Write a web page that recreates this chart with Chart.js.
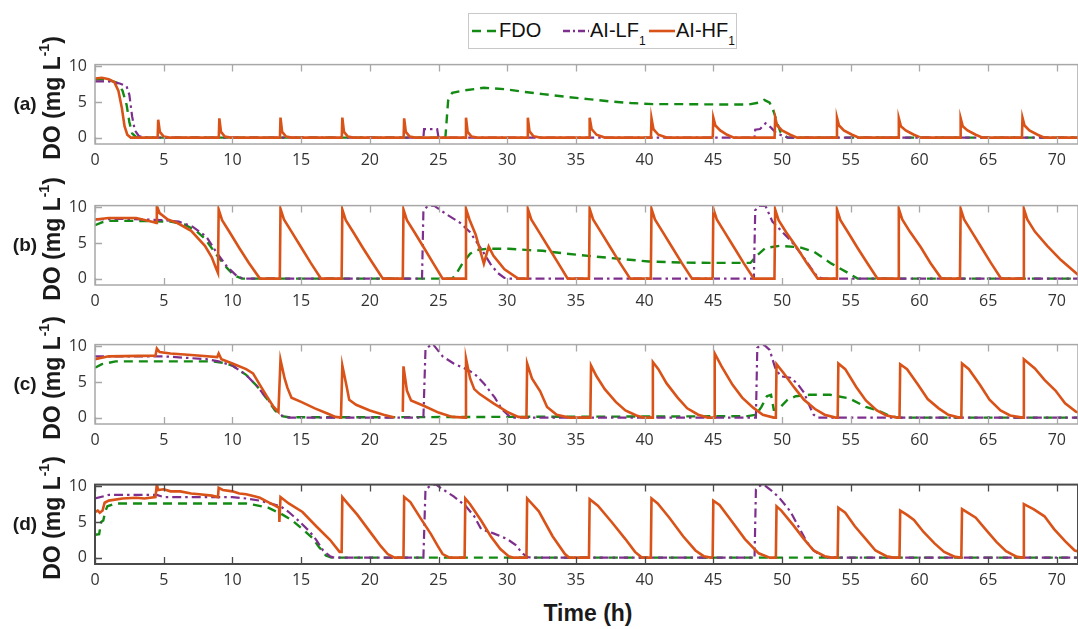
<!DOCTYPE html>
<html>
<head>
<meta charset="utf-8">
<script src="https://cdn.jsdelivr.net/npm/chart.js@4.4.7/dist/chart.umd.min.js"></script>
<style>
  body { margin:0; background:#fff; }
  #wrap { position:relative; width:1078px; height:629px; overflow:hidden; background:#fff; }
  canvas { position:absolute; left:0; }
  .ylab { position:absolute; left:52px; font:bold 23px "Liberation Sans", Arial, sans-serif; color:#1a1a1a;
          white-space:nowrap; transform:translate(-50%,-50%) rotate(-90deg); }
  .ylab sup { font-size:14px; position:relative; top:-2px; }
  .plab { position:absolute; left:25px; font:bold 19px "Liberation Sans", Arial, sans-serif; color:#1a1a1a;
          transform:translate(-50%,-50%); }
  #xlab { position:absolute; left:588px; top:613px; transform:translate(-50%,-50%);
          font:bold 23px "Liberation Sans", Arial, sans-serif; color:#1a1a1a; }
  #legend { position:absolute; left:468px; top:13px; width:269px; height:36px; border:1px solid #c8c8c8;
            background:#fff; box-sizing:border-box; font:20px "Liberation Sans", Arial, sans-serif; color:#111; }
  #legend svg, #legend span { position:absolute; }
  #legend span { top:5px; }
  #legend sub { font-size:12px; position:relative; top:3px; }
</style>
</head>
<body>
<div id="wrap">
  <div id="legend">
    <svg style="left:2px;top:10px" width="28" height="14"><line x1="1" y1="7" x2="27" y2="7" stroke="#138a13" stroke-width="2.6" stroke-dasharray="9,6"/></svg>
    <span style="left:30px">FDO</span>
    <svg style="left:93px;top:10px" width="28" height="14"><line x1="1" y1="7" x2="27" y2="7" stroke="#7E2F8E" stroke-width="2.4" stroke-dasharray="7,3,2,3"/></svg>
    <span style="left:121px">AI-LF<sub>1</sub></span>
    <svg style="left:179px;top:10px" width="28" height="14"><line x1="1" y1="7" x2="27" y2="7" stroke="#D95319" stroke-width="2.6"/></svg>
    <span style="left:207px">AI-HF<sub>1</sub></span>
  </div>
  <div id="xlab">Time (h)</div>
</div>
<script>
// axis ticks
const xTicks = [0, 5, 10, 15, 20, 25, 30, 35, 40, 45, 50, 55, 60, 65, 70];
const yTicks = [0, 5, 10];
const xMax = 71.54;

// ---- panel (a) ----
const a_FDO = [[0,8.2],[1.0,8.1],[1.6,7.7],[2.0,6.6],[2.3,4.6],[2.5,2.2],[2.7,0.6],[3.0,0.05],[3.5,0],[25.5,0],[25.7,5.2],[26.0,6.3],[26.8,6.6],[28.3,7.0],[29.8,6.8],[31.3,6.4],[32.6,6.1],[34.4,5.7],[35.9,5.4],[37.4,5.1],[39.0,4.85],[40.6,4.7],[42.4,4.7],[45.6,4.65],[47.6,4.65],[48.3,4.9],[48.7,5.3],[49.1,4.9],[49.4,3.6],[49.7,1.8],[49.9,0.7],[50.4,0],[72.7,0]];
const a_LF = [[0,7.9],[1.0,7.9],[1.8,7.6],[2.3,7.2],[2.5,6.0],[2.7,3.0],[2.9,1.0],[3.2,0.2],[3.6,0],[23.9,0],[23.95,1.2],[24.9,1.2],[25.0,0],[48.0,0],[48.05,1.1],[48.4,1.2],[48.8,2.0],[49.2,1.4],[49.6,0.6],[50.4,0],[72.7,0]];
const a_HF = [[0,8.3],[0.5,8.4],[1.0,8.2],[1.4,7.8],[1.7,6.6],[1.95,4.2],[2.15,1.6],[2.35,0.4],[2.6,0],
  [4.56,0],[4.6,2.5],[4.72,0.8],[5.0,0.15],[5.4,0],
  [9.01,0],[9.05,2.7],[9.17,0.8],[9.45,0.15],[9.85,0],
  [13.46,0],[13.5,2.8],[13.62,0.8],[13.9,0.15],[14.3,0],
  [17.96,0],[18.0,2.8],[18.12,0.8],[18.4,0.15],[18.8,0],
  [22.46,0],[22.5,2.7],[22.62,0.8],[22.9,0.15],[23.3,0],
  [26.96,0],[27.0,2.8],[27.12,0.8],[27.4,0.15],[27.8,0],
  [31.46,0],[31.5,2.8],[31.62,0.9],[31.9,0.2],[32.4,0],
  [35.96,0],[36.0,2.8],[36.14,1.2],[36.5,0.4],[37.1,0],
  [40.46,0],[40.5,2.7],[40.64,1.2],[41.0,0.4],[41.6,0],
  [44.96,0],[45.0,2.8],[45.15,1.7],[45.5,1.0],[46.0,0.4],[46.5,0],
  [49.46,0],[49.5,2.8],[49.65,1.7],[50.0,1.0],[50.6,0.4],[51.1,0],
  [53.96,0],[54.0,2.8],[54.15,1.7],[54.5,1.0],[55.1,0.4],[55.6,0],
  [58.46,0],[58.5,2.7],[58.65,1.6],[59.0,1.0],[59.6,0.4],[60.1,0],
  [62.96,0],[63.0,2.7],[63.15,1.6],[63.5,1.0],[64.1,0.4],[64.6,0],
  [67.46,0],[67.5,2.8],[67.65,1.7],[68.0,1.0],[68.6,0.4],[69.1,0],[72.7,0]];

// ---- panel (b) ----
const b_FDO = [[0,7.5],[0.5,7.9],[1.0,8.1],[3,8.1],[5.5,8.0],[6.5,7.6],[7.3,6.8],[8.0,5.6],[8.6,4.0],[9.1,2.7],[9.6,1.5],[10.0,0.7],[10.3,0.3],[10.7,0],[26.0,0],[26.3,0.7],[26.7,2.0],[27.3,3.5],[27.8,4.0],[28.6,4.2],[30.1,4.2],[31.6,4.0],[32.6,3.9],[34.3,3.5],[36.1,3.15],[38.3,2.75],[40.3,2.4],[42.8,2.25],[45.3,2.2],[47.7,2.2],[48.1,3.1],[48.8,4.3],[49.8,4.6],[51.3,4.4],[52.3,3.8],[53.6,2.1],[54.8,0.8],[55.5,0],[72.7,0]];
const b_LF = [[0,8.3],[2,8.4],[5,8.2],[6.1,8.0],[7.1,7.3],[8.1,5.9],[8.8,3.8],[9.6,1.7],[10.3,0.4],[10.8,0],[23.8,0],[23.9,9.5],[24.2,10.2],[24.7,10.2],[25.6,9.0],[26.6,7.8],[27.3,6.5],[28.1,4.2],[28.8,2.0],[29.3,0.8],[29.8,0.1],[30.2,0],[47.95,0],[48.05,9.6],[48.3,10.2],[48.8,10.2],[49.3,8.0],[49.8,7.0],[50.6,5.4],[51.3,3.7],[52.1,1.5],[52.6,0.2],[53.0,0],[72.7,0]];
const b_HF = [[0,8.3],[1,8.5],[3,8.5],[4.3,7.9],[4.45,7.8],[4.5,10.2],[4.7,9.2],[5.3,8.3],[6,7.8],[7,6.7],[8,4.6],[8.5,3.0],[8.8,1.5],[8.95,0.8],
  [9.0,9.7],[9.25,8.2],[9.8,6.5],[10.5,4.3],[11.2,2.2],[12.0,0],[13.45,0],
  [13.5,9.8],[13.75,8.3],[14.3,6.6],[15.0,4.4],[15.7,2.2],[16.45,0],[17.95,0],
  [18.0,9.7],[18.25,8.2],[18.8,6.5],[19.5,4.3],[20.2,2.2],[20.95,0],[22.4,0],
  [22.45,9.7],[22.7,8.2],[23.25,6.5],[23.95,4.3],[24.6,2.2],[25.3,0],[26.95,0],
  [27.0,9.8],[27.25,8.3],[27.7,6.2],[28.3,2.1],[28.65,4.5],[29.0,3.2],[29.8,1.3],[30.8,0],[31.45,0],
  [31.5,9.8],[31.75,8.3],[32.3,6.6],[33.0,4.4],[33.7,2.2],[34.4,0],[35.95,0],
  [36.0,9.8],[36.25,8.3],[36.8,6.6],[37.5,4.4],[38.2,2.2],[38.95,0],[40.45,0],
  [40.5,9.8],[40.75,8.3],[41.3,6.6],[42.0,4.4],[42.7,2.2],[43.45,0],[44.95,0],
  [45.0,9.8],[45.25,8.3],[45.8,6.6],[46.5,4.4],[47.2,2.2],[47.95,0],[49.45,0],
  [49.5,9.7],[49.75,8.2],[50.3,6.5],[51.1,4.3],[51.8,2.2],[52.6,0],[53.95,0],
  [54.0,9.7],[54.25,8.2],[54.8,6.5],[55.5,4.3],[56.2,2.2],[56.95,0],[58.45,0],
  [58.5,9.8],[58.75,8.3],[59.3,6.6],[60.1,4.4],[60.8,2.2],[61.6,0],[62.95,0],
  [63.0,9.8],[63.25,8.3],[63.8,6.6],[64.5,4.4],[65.2,2.2],[65.95,0],[67.55,0],
  [67.6,9.8],[67.85,8.3],[68.4,6.6],[69.3,4.6],[70.3,2.6],[71.5,0.6],[72.7,0.1]];

// ---- panel (c) ----
const c_FDO = [[0,7.0],[0.5,7.5],[1.5,7.9],[8.5,7.9],[9.3,7.7],[10,7.3],[11,6.0],[11.8,4.4],[12.6,2.4],[13.1,1.0],[13.6,0.2],[14.1,0.05],[20,0.05],[30,0.1],[40,0.15],[47.5,0.2],[48.1,0.4],[48.5,1.5],[48.9,3.0],[49.2,3.2],[49.4,1.1],[49.7,1.1],[50.4,2.5],[51.0,3.0],[52.0,3.2],[53.5,3.2],[54.9,2.7],[56.1,1.5],[57.1,0.9],[57.9,0.2],[58.5,0],[72.7,0]];
const c_LF = [[0,8.6],[5,8.6],[6.6,8.4],[8.1,8.2],[9.0,7.9],[10,7.3],[11,6.0],[11.8,4.4],[12.6,2.5],[13.1,1.2],[13.6,0.3],[14.1,0],[23.9,0],[24.05,9.5],[24.3,10.0],[24.6,10.3],[25.3,8.6],[26.1,7.6],[26.8,7.0],[27.6,6.2],[28.3,4.8],[29.1,2.8],[29.6,1.2],[30.1,0.3],[30.5,0],[48.1,0],[48.2,9.8],[48.4,10.1],[48.7,10.2],[49.1,9.5],[49.5,7.0],[49.9,5.8],[50.6,5.6],[51.1,4.8],[51.6,3.5],[52.1,1.2],[52.3,0.4],[52.6,0],[72.7,0]];
const c_HF = [[0,8.2],[1,8.6],[4.4,8.7],[4.5,9.7],[4.7,9.2],[5.5,9.0],[7,8.8],[8.9,8.5],[9.0,9.0],[9.2,8.2],[10,7.6],[11,6.8],[11.5,6.2],[12,4.6],[12.5,3.0],[13.0,1.5],[13.35,0.8],
  [13.5,8.1],[13.8,5.5],[14.0,4.2],[14.3,2.8],[15,2.2],[16,1.3],[17,0.5],[17.5,0.1],[17.9,0],
  [18.0,7.3],[18.3,4.5],[18.5,2.5],[19,1.8],[20,1.0],[21,0.4],[21.8,0],[22.0,null],
  [22.4,0.8],[22.45,7.2],[22.7,3.8],[23.0,2.4],[24,1.6],[25,0.7],[26,0.1],[26.95,0],
  [27.0,8.3],[27.3,5.5],[27.6,4.0],[28,3.3],[29,2.0],[30,0.8],[30.8,0.1],[31.4,0],
  [31.45,7.6],[31.8,5.5],[32.4,3.7],[32.9,1.5],[33.6,0.4],[34.5,0],[36.05,0],
  [36.1,7.3],[36.5,5.8],[37.1,4.0],[37.9,2.2],[38.6,1.0],[39.4,0.3],[39.9,0],[40.55,0],
  [40.6,7.8],[41.0,6.8],[41.6,4.8],[42.4,2.8],[43.1,1.3],[43.9,0.4],[44.6,0],[45.05,0],
  [45.1,9.0],[45.6,7.2],[46.4,4.6],[47.1,2.8],[47.9,1.4],[48.6,0.4],[49.4,0],[49.55,0],
  [49.6,7.5],[50.1,6.3],[50.9,4.2],[51.6,2.5],[52.4,1.2],[53.1,0.4],[53.9,0],[54.05,0],
  [54.1,7.6],[54.6,6.8],[55.4,4.3],[56.1,2.4],[56.9,1.0],[57.6,0.3],[58.4,0],[58.55,0],
  [58.6,7.5],[59.1,6.8],[59.9,4.6],[60.6,2.6],[61.4,1.3],[62.1,0.4],[62.9,0],[63.05,0],
  [63.1,7.6],[63.6,6.8],[64.4,4.6],[65.1,2.5],[65.9,1.0],[66.6,0.3],[67.5,0],[67.55,0],
  [67.6,8.2],[68.4,6.9],[69.1,5.3],[69.9,3.8],[70.6,2.0],[71.4,0.8],[72.7,0.3]];

// ---- panel (d) ----
const d_FDO = [[0,3.2],[0.3,3.3],[0.45,5.0],[0.6,5.2],[0.75,6.5],[0.9,7.2],[1.5,7.6],[11,7.6],[11.6,7.4],[12.6,7.0],[13.5,6.2],[14.3,5.3],[15.1,4.0],[15.8,2.8],[16.3,1.5],[16.8,0.3],[17.2,0],[72.7,0]];
const d_LF = [[0,8.3],[1,8.8],[4.5,8.8],[5,8.5],[10,8.5],[11,8.3],[12,8.0],[13.5,7.2],[14.1,6.4],[14.8,5.2],[15.6,3.7],[16.1,2.5],[16.6,1.0],[17.1,0.2],[17.4,0],[23.9,0],[24.05,9.5],[24.4,10.1],[24.8,10.3],[25.3,9.6],[26.1,8.6],[26.95,7.3],[27.6,5.8],[28.1,4.0],[29,3.4],[30,2.6],[30.6,1.8],[31.1,0.6],[31.5,0.05],[32,0],[48.0,0],[48.1,9.6],[48.4,10.1],[48.7,10.2],[49.3,9.3],[49.8,8.4],[50.6,6.5],[51.3,4.0],[51.8,2.2],[52.3,1.0],[52.8,0.3],[53.3,0],[72.7,0]];
const d_HF = [[0,6.4],[0.2,6.6],[0.35,6.3],[0.55,6.6],[0.7,7.7],[1,8.0],[2,8.3],[3,8.4],[3.6,8.3],[4.4,8.5],[4.5,10.3],[4.6,9.5],[5.0,9.6],[5.5,9.3],[6.2,9.3],[7,9.0],[7.6,8.9],[8.5,8.7],[8.95,8.5],[9.0,9.8],[9.3,9.5],[10,9.3],[10.5,9.0],[11,8.9],[11.6,8.6],[12,8.4],[12.6,7.8],[13,7.4],[13.4,7.0],[13.42,5.0],
  [13.5,8.5],[14.1,7.6],[15.1,6.4],[16.1,4.4],[17.1,2.5],[17.8,0.8],[17.95,0.8],
  [18.0,8.5],[18.3,7.8],[19.1,6.0],[20.1,3.4],[20.8,1.6],[21.3,0.5],[21.8,0],[22.45,0],
  [22.5,8.5],[22.95,7.8],[23.7,5.5],[24.45,3.3],[24.95,1.6],[25.3,0.5],[25.8,0],[26.9,0],
  [26.95,8.3],[27.3,7.5],[28.1,5.2],[28.8,3.0],[29.5,1.2],[30.1,0.2],[30.4,0],[31.4,0],
  [31.45,8.3],[32.3,6.5],[33.3,3.0],[34.2,0.5],[34.5,0],[35.95,0],
  [36.0,8.2],[36.6,7.3],[37.6,5.0],[38.6,2.6],[39.3,0.8],[39.8,0],[40.45,0],
  [40.5,8.3],[40.95,7.6],[41.8,5.6],[42.8,3.0],[43.7,1.0],[44.3,0.2],[44.8,0],[44.95,0],
  [45.0,8.0],[45.45,7.4],[46.3,5.2],[47.3,2.6],[48.3,0.6],[49.1,0],[49.55,0],
  [49.6,7.2],[49.95,6.6],[50.8,4.6],[51.6,2.6],[52.3,1.0],[53.1,0.2],[53.6,0],[54.05,0],
  [54.1,7.0],[54.6,6.3],[55.3,4.4],[56.1,2.6],[56.8,1.0],[57.6,0.2],[58.1,0],[58.55,0],
  [58.6,6.6],[59.1,6.0],[59.6,5.3],[60.3,3.6],[61.1,2.0],[61.8,0.8],[62.6,0.1],[63.05,0],
  [63.1,6.8],[63.6,6.2],[64.1,5.6],[64.8,4.0],[65.6,2.2],[66.3,0.9],[67.1,0.1],[67.55,0],
  [67.6,7.5],[68.3,6.8],[69.1,5.8],[69.8,4.0],[70.6,2.3],[71.3,1.0],[72.7,0.3]];

const seriesNames = ['AI-HF\u2081', 'AI-LF\u2081', 'FDO'];

// panel layout (pixel positions of each plot box)
const panels = [
    { tag:'(a)', hf:a_HF, lf:a_LF, fdo:a_FDO, top:53,  bottom:144, frame:'#a8a8a8', frameW:1.5 },
    { tag:'(b)', hf:b_HF, lf:b_LF, fdo:b_FDO, top:194, bottom:285, frame:'#a8a8a8', frameW:1.5 },
    { tag:'(c)', hf:c_HF, lf:c_LF, fdo:c_FDO, top:333, bottom:424, frame:'#a8a8a8', frameW:1.5 },
    { tag:'(d)', hf:d_HF, lf:d_LF, fdo:d_FDO, top:473, bottom:564, frame:'#4a4a4a', frameW:2 }
];

const PAD_TOP = 6, XAXIS_H = 32, YAXIS_W = 95, TICK_LEN = 7;
const toXY = arr => arr.map(p => ({ x: p[0], y: p[1] }));

// frame box + inward tick marks, MATLAB-style
const framePlugin = {
    id: 'frame',
    afterDraw(chart, args, opts) {
        const { ctx, chartArea: a, scales } = chart;
        ctx.save();
        ctx.strokeStyle = opts.color;
        ctx.lineWidth = opts.width;
        ctx.strokeRect(a.left, a.top, a.right - a.left, a.bottom - a.top);
        ctx.lineWidth = 1.3;
        ctx.beginPath();
        xTicks.forEach(v => {
            const x = Math.round(scales.x.getPixelForValue(v)) + 0.5;
            ctx.moveTo(x, a.bottom); ctx.lineTo(x, a.bottom - TICK_LEN);
            ctx.moveTo(x, a.top); ctx.lineTo(x, a.top + TICK_LEN);
        });
        yTicks.forEach(v => {
            const y = Math.round(scales.y.getPixelForValue(v)) + 0.5;
            ctx.moveTo(a.left, y); ctx.lineTo(a.left + TICK_LEN, y);
        });
        ctx.stroke();
        ctx.restore();
    }
};

const wrap = document.getElementById('wrap');
const tickFont = { family: "'Open Sans', sans-serif", size: 16 };

panels.forEach(p => {
    const cv = document.createElement('canvas');
    const h = PAD_TOP + (p.bottom - p.top) + XAXIS_H;
    cv.width = 1078; cv.height = h;
    cv.style.top = (p.top - PAD_TOP) + 'px';
    cv.style.width = '1078px'; cv.style.height = h + 'px';
    wrap.appendChild(cv);

    const yl = document.createElement('div');
    yl.className = 'ylab';
    yl.style.top = ((p.top + p.bottom) / 2 - 1) + 'px';
    yl.innerHTML = 'DO (mg L<sup>-1</sup>)';
    wrap.appendChild(yl);

    const pl = document.createElement('div');
    pl.className = 'plab';
    pl.style.top = ((p.top + p.bottom) / 2 + 5) + 'px';
    pl.textContent = p.tag;
    wrap.appendChild(pl);

    new Chart(cv, {
        type: 'line',
        data: {
            datasets: [{
                label: seriesNames[0], data: toXY(p.hf),
                borderColor: '#D95319', borderWidth: 2.6
            }, {
                label: seriesNames[1], data: toXY(p.lf),
                borderColor: '#7E2F8E', borderWidth: 2.2, borderDash: [9, 4, 2.5, 4]
            }, {
                label: seriesNames[2], data: toXY(p.fdo),
                borderColor: '#138a13', borderWidth: 2.4, borderDash: [9, 6]
            }]
        },
        options: {
            responsive: false, animation: false, devicePixelRatio: 1,
            layout: { padding: { top: PAD_TOP, left: 0, right: 0, bottom: 0 } },
            elements: { point: { radius: 0 }, line: { tension: 0, fill: false } },
            plugins: { legend: { display: false }, tooltip: { enabled: false },
                       frame: { color: p.frame, width: p.frameW } },
            scales: {
                x: {
                    type: 'linear', min: 0, max: xMax,
                    afterBuildTicks: s => { s.ticks = xTicks.map(v => ({ value: v })); },
                    afterFit: s => { s.height = XAXIS_H; },
                    grid: { display: false, drawTicks: false }, border: { display: false },
                    ticks: { padding: 7, color: '#333', font: tickFont, autoSkip: false, maxRotation: 0 }
                },
                y: {
                    min: -0.9, max: 10.25,
                    afterBuildTicks: s => { s.ticks = yTicks.map(v => ({ value: v })); },
                    afterFit: s => { s.width = YAXIS_W; },
                    grid: { display: false, drawTicks: false }, border: { display: false },
                    ticks: { padding: 8, color: '#333', font: tickFont }
                }
            }
        },
        plugins: [framePlugin]
    });
});
</script>
</body>
</html>
